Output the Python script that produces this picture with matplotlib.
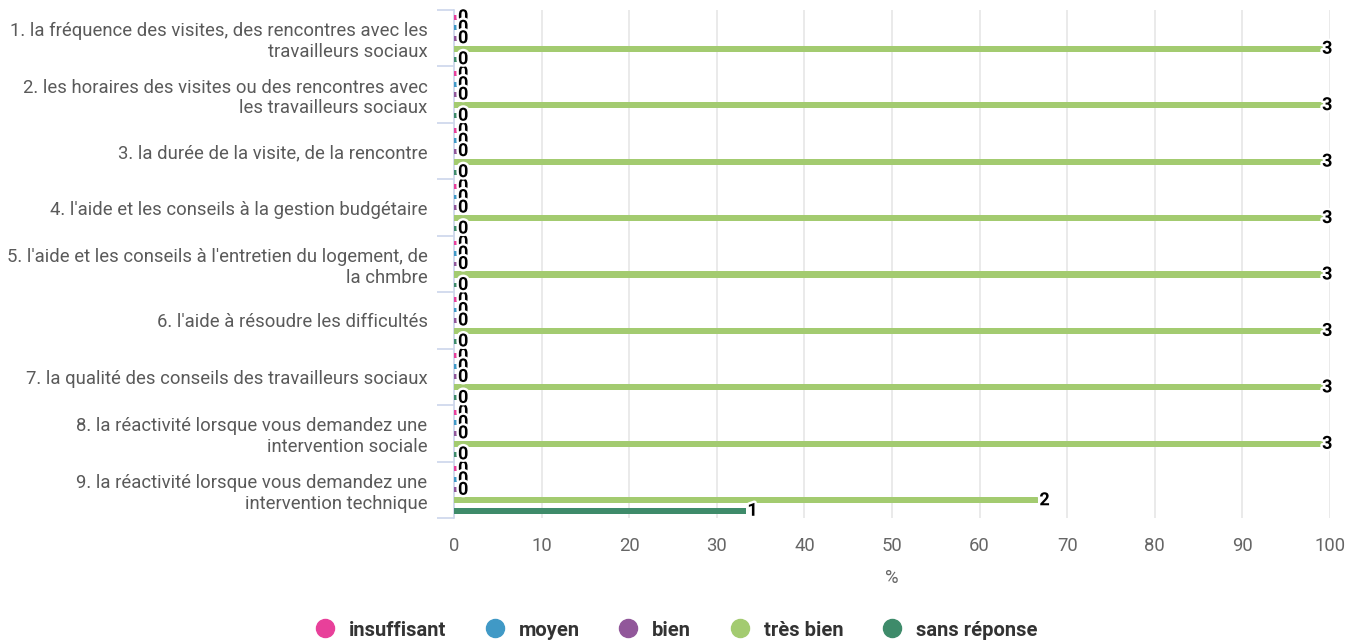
import matplotlib
matplotlib.use('Agg')
import matplotlib.pyplot as plt
import matplotlib.patheffects as pe
from matplotlib.lines import Line2D
import numpy as np

plt.rcParams['font.family'] = ['Roboto', 'DejaVu Sans']

categories = [
    "1. la fréquence des visites, des rencontres avec les\ntravailleurs sociaux",
    "2. les horaires des visites ou des rencontres avec\nles travailleurs sociaux",
    "3. la durée de la visite, de la rencontre",
    "4. l'aide et les conseils à la gestion budgétaire",
    "5. l'aide et les conseils à l'entretien du logement, de\nla chmbre",
    "6. l'aide à résoudre les difficultés",
    "7. la qualité des conseils des travailleurs sociaux",
    "8. la réactivité lorsque vous demandez une\nintervention sociale",
    "9. la réactivité lorsque vous demandez une\nintervention technique",
]
series_names = ['insuffisant', 'moyen', 'bien', 'très bien', 'sans réponse']
colors = ['#E8409A', '#4099C6', '#91579A', '#A3CB70', '#3E8B6A']

# counts per series (answers), percentages derived from total of 3
counts = {
    'insuffisant':  [0, 0, 0, 0, 0, 0, 0, 0, 0],
    'moyen':        [0, 0, 0, 0, 0, 0, 0, 0, 0],
    'bien':         [0, 0, 0, 0, 0, 0, 0, 0, 0],
    'très bien':    [3, 3, 3, 3, 3, 3, 3, 3, 2],
    'sans réponse': [0, 0, 0, 0, 0, 0, 0, 0, 1],
}
total = 3

fig = plt.figure(figsize=(13.48, 6.42), dpi=100)
ax = fig.add_axes([454 / 1348, 1 - 518 / 642, 876 / 1348, 508 / 642])

y = np.arange(len(categories))
step = 0.186
height = 0.108
min_len = 0.3  # zero-value bars still drawn as a thin sliver

stroke = [pe.withStroke(linewidth=3.5, foreground='white')]
for j, (name, col) in enumerate(zip(series_names, colors)):
    vals = np.array(counts[name])
    pct = vals / total * 100
    ypos = y + (j - 2) * step
    widths = np.where(pct > 0, pct, min_len)
    h = np.where(pct > 0, height, height * 0.8)
    ax.barh(ypos, widths, height=h, color=col, zorder=3)
    for yy, p, c in zip(ypos, pct, vals):
        if p >= 99:
            ax.annotate(str(c), (p, yy), xytext=(-2, 0), textcoords='offset points',
                        ha='center', va='center', fontsize=13, fontweight='bold',
                        color='black', path_effects=stroke, zorder=5)
        else:
            ax.annotate(str(c), (max(p, min_len), yy), xytext=(1, 0), textcoords='offset points',
                        ha='left', va='center', fontsize=13, fontweight='bold',
                        color='black', path_effects=stroke, zorder=5)

ax.set_xlim(0, 100)
ax.set_ylim(len(categories) - 0.5, -0.5)
ax.set_xticks(np.arange(0, 101, 10))
ax.tick_params(axis='x', length=0, pad=14, labelsize=13.3, labelcolor='#666666')
ax.grid(axis='x', color='#e6e6e6', linewidth=1.2, zorder=0)

ax.set_yticks(y)
ax.set_yticklabels(categories, fontsize=13.3, color='#5a5a5a')
ax.tick_params(axis='y', length=0, pad=19)
ax.set_yticks(np.arange(-0.5, len(categories)), minor=True)
ax.tick_params(axis='y', which='minor', length=12, color='#ccd6eb', width=1.2)

for s in ['top', 'right', 'bottom']:
    ax.spines[s].set_visible(False)
ax.spines['left'].set_color('#ccd6eb')
ax.spines['left'].set_linewidth(1.2)

ax.set_xlabel('%', fontsize=13.3, color='#666666', labelpad=10)

handles = [Line2D([0], [0], marker='o', linestyle='', markersize=13,
                  markerfacecolor=c, markeredgecolor=c) for c in colors]
leg = fig.legend(handles, series_names, loc='center', bbox_to_anchor=(0.5, 1 - 630 / 642),
                 ncol=5, frameon=False, handletextpad=0.5, columnspacing=1.7,
                 handlelength=1.4, prop={'size': 14.5, 'weight': 'bold'})
for t in leg.get_texts():
    t.set_color('#333333')

fig.savefig('out.png', dpi=100)
